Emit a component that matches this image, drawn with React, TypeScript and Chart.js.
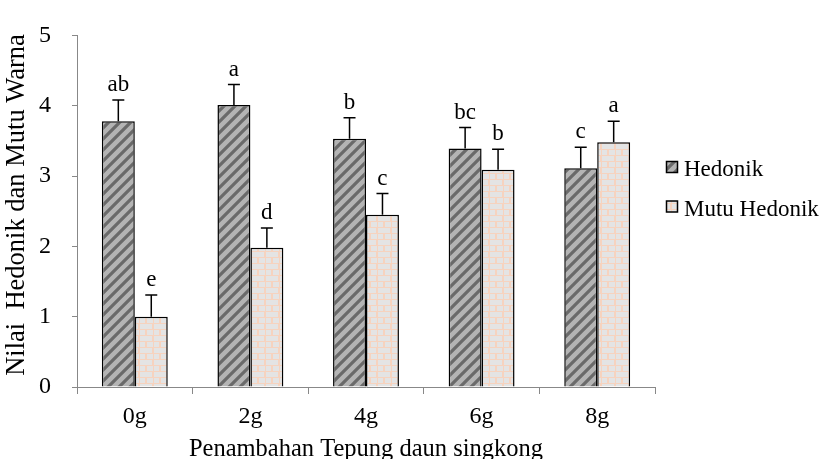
import { useEffect, useRef } from "react";
import { Chart, registerables } from "chart.js";
Chart.register(...registerables);

const categories = ["0g", "2g", "4g", "6g", "8g"];
const seriesNames = ["Hedonik", "Mutu Hedonik"];
const hedonik = [3.78, 4.01, 3.53, 3.39, 3.11];
const mutuHedonik = [1.0, 1.98, 2.45, 3.09, 3.48];
const hedonikErr = [0.3, 0.29, 0.3, 0.3, 0.3];
const mutuErr = [0.31, 0.28, 0.3, 0.29, 0.3];
const hedonikLetters = ["ab", "a", "b", "bc", "c"];
const mutuLetters = ["e", "d", "c", "b", "a"];
const yTitle = "Nilai  Hedonik dan Mutu Warna";
const xTitle = "Penambahan Tepung daun singkong";

const FONT = '"Liberation Serif", "Times New Roman", serif';

function stripePattern(ctx: CanvasRenderingContext2D) {
  const s = 11;
  const c = document.createElement("canvas");
  c.width = s;
  c.height = s;
  const g = c.getContext("2d")!;
  g.fillStyle = "#b4b4b4";
  g.fillRect(0, 0, s, s);
  g.strokeStyle = "#6a6a6a";
  g.lineWidth = 3.2;
  g.beginPath();
  g.moveTo(-2, s + 2);
  g.lineTo(s + 2, -2);
  g.moveTo(-2, 2);
  g.lineTo(2, -2);
  g.moveTo(s - 2, s + 2);
  g.lineTo(s + 2, s - 2);
  g.stroke();
  return ctx.createPattern(c, "repeat")!;
}

function brickPattern(ctx: CanvasRenderingContext2D) {
  const c = document.createElement("canvas");
  c.width = 14;
  c.height = 12;
  const g = c.getContext("2d")!;
  g.fillStyle = "#f6d3bf";
  g.fillRect(0, 0, 14, 12);
  g.fillStyle = "#e4e4e4";
  g.fillRect(0, 0, 12, 5);
  g.fillRect(0, 6, 5, 5);
  g.fillRect(7, 6, 6, 5);
  return ctx.createPattern(c, "repeat")!;
}

const errorPlugin = {
  id: "errLetters",
  afterDatasetsDraw(chart: any) {
    const ctx = chart.ctx;
    const y = chart.scales.y;
    const errs = [hedonikErr, mutuErr];
    const letters = [hedonikLetters, mutuLetters];
    const vals = [hedonik, mutuHedonik];
    ctx.save();
    chart.data.datasets.forEach((_: any, di: number) => {
      const meta = chart.getDatasetMeta(di);
      meta.data.forEach((bar: any, i: number) => {
        const top = y.getPixelForValue(vals[di][i] + errs[di][i]);
        ctx.strokeStyle = "#000";
        ctx.lineWidth = 1.5;
        ctx.beginPath();
        ctx.moveTo(bar.x, bar.y);
        ctx.lineTo(bar.x, top);
        ctx.moveTo(bar.x - 6, top);
        ctx.lineTo(bar.x + 6, top);
        ctx.stroke();
        ctx.fillStyle = "#000";
        ctx.font = `23px ${FONT}`;
        ctx.textAlign = "center";
        ctx.textBaseline = "alphabetic";
        ctx.fillText(letters[di][i], bar.x, top - 9);
      });
    });
    ctx.restore();
  },
};

const legendPlugin = {
  id: "customLegend",
  afterDraw(chart: any) {
    const ctx = chart.ctx;
    ctx.save();
    const items = [
      { y: 161.5, fill: chart.data.datasets[0].backgroundColor },
      { y: 201, fill: chart.data.datasets[1].backgroundColor },
    ];
    items.forEach((it, i) => {
      ctx.fillStyle = it.fill;
      ctx.fillRect(666.5, it.y, 11, 11);
      ctx.strokeStyle = "#000";
      ctx.lineWidth = 1.5;
      ctx.strokeRect(666.5, it.y, 11, 11);
      ctx.fillStyle = "#000";
      ctx.font = `23px ${FONT}`;
      ctx.textAlign = "left";
      ctx.textBaseline = "alphabetic";
      ctx.fillText(seriesNames[i], 684, it.y + 14.5);
    });
    // y-axis title
    ctx.translate(17, 205);
    ctx.rotate(-Math.PI / 2);
    ctx.font = `26.5px ${FONT}`;
    ctx.textAlign = "center";
    ctx.textBaseline = "middle";
    ctx.fillText(yTitle, 0, 0);
    ctx.restore();
  },
};

export default function App() {
  const ref = useRef<HTMLCanvasElement | null>(null);
  useEffect(() => {
    document.body.style.margin = "0";
    const canvas = ref.current!;
    const ctx = canvas.getContext("2d")!;
    const chart = new Chart(canvas, {
      type: "bar",
      data: {
        labels: categories,
        datasets: [
          {
            label: seriesNames[0],
            data: hedonik,
            backgroundColor: stripePattern(ctx) as any,
            borderColor: "#000",
            borderWidth: 1.5,
            categoryPercentage: 0.57,
            barPercentage: 1,
          },
          {
            label: seriesNames[1],
            data: mutuHedonik,
            backgroundColor: brickPattern(ctx) as any,
            borderColor: "#000",
            borderWidth: 1.5,
            categoryPercentage: 0.57,
            barPercentage: 1,
          },
        ],
      },
      options: {
        responsive: false,
        animation: false,
        layout: { padding: { top: 20.7, right: 171, left: 0, bottom: 0 } },
        plugins: {
          legend: { display: false },
          tooltip: { enabled: false },
        },
        scales: {
          x: {
            grid: {
              display: true,
              drawOnChartArea: false,
              drawTicks: true,
              tickLength: 7,
              color: "#888",
            },
            border: { color: "#888", width: 1 },
            ticks: { color: "#000", font: { family: FONT, size: 24 }, padding: 8 },
            title: {
              display: true,
              text: xTitle,
              color: "#000",
              font: { family: FONT, size: 24.5, lineHeight: 1 },
              padding: { top: -3, bottom: -3 },
            },
            afterFit(scale: any) {
              scale.height = 72;
            },
          },
          y: {
            min: 0,
            max: 5,
            ticks: { stepSize: 1, color: "#000", font: { family: FONT, size: 24 }, padding: 21 },
            grid: {
              display: true,
              drawOnChartArea: false,
              drawTicks: true,
              tickLength: 5,
              color: "#888",
            },
            border: { color: "#888", width: 1 },
            title: { display: false },
            afterFit(scale: any) {
              scale.width = 77;
            },
          },
        },
      },
      plugins: [errorPlugin, legendPlugin],
    });
    return () => chart.destroy();
  }, []);
  return (
    <div style={{ width: 826, height: 459 }}>
      <canvas ref={ref} width={826} height={459} />
    </div>
  );
}
